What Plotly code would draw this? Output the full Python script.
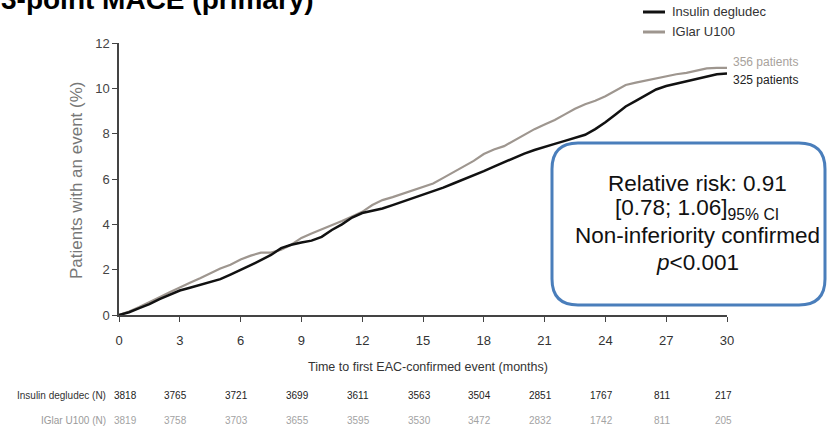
import plotly.graph_objects as go

# Time axis (months) for the cumulative incidence curves
months = [i * 0.5 for i in range(61)]

# Cumulative % of patients with a first EAC-confirmed MACE
degludec_pct = [
    0.00, 0.12, 0.30, 0.48, 0.70, 0.90, 1.08, 1.20, 1.32, 1.45,
    1.58, 1.78, 1.98, 2.20, 2.42, 2.65, 2.95, 3.10, 3.20, 3.28,
    3.45, 3.75, 4.00, 4.30, 4.50, 4.60, 4.70, 4.85, 5.00, 5.15,
    5.30, 5.45, 5.62, 5.80, 5.98, 6.15, 6.35, 6.55, 6.75, 6.95,
    7.12, 7.28, 7.40, 7.55, 7.68, 7.82, 7.95, 8.20, 8.50, 8.85,
    9.20, 9.45, 9.70, 9.95, 10.10, 10.20, 10.30, 10.42, 10.50, 10.62,
    10.66,
]
iglar_pct = [
    0.00, 0.15, 0.35, 0.55, 0.78, 1.00, 1.22, 1.42, 1.62, 1.85,
    2.05, 2.22, 2.45, 2.62, 2.75, 2.75, 2.88, 3.10, 3.40, 3.60,
    3.78, 3.95, 4.15, 4.35, 4.55, 4.85, 5.07, 5.20, 5.35, 5.48,
    5.62, 5.80, 6.05, 6.30, 6.55, 6.80, 7.10, 7.30, 7.45, 7.70,
    7.95, 8.20, 8.40, 8.60, 8.85, 9.10, 9.30, 9.45, 9.65, 9.90,
    10.15, 10.25, 10.35, 10.45, 10.55, 10.62, 10.68, 10.78, 10.88, 10.90,
    10.90,
]

series_names = ["Insulin degludec", "IGlar U100"]
event_counts = ["325 patients", "356 patients"]

# Number-at-risk table
risk_times = [0, 3, 6, 9, 12, 15, 18, 21, 24, 27, 30]
risk_degludec = [3818, 3765, 3721, 3699, 3611, 3563, 3504, 2851, 1767, 811, 217]
risk_iglar = [3819, 3758, 3703, 3655, 3595, 3530, 3472, 2832, 1742, 811, 205]
risk_row_labels = ["Insulin degludec (N)", "IGlar U100 (N)"]

W, H = 827, 433
ML, MR, MT, MB = 119, 100, 43, 118
PW, PH = W - ML - MR, H - MT - MB


def px_x(px):
    return (px - ML) / PW


def px_y(py):
    return (H - MB - py) / PH


FONT = "Liberation Sans, Arial, sans-serif"
BLACK = "#111111"
GREY = "#9e968f"

fig = go.Figure()
fig.add_trace(go.Scatter(x=months, y=iglar_pct, name=series_names[1], mode="lines",
                         line=dict(color=GREY, width=2.2), showlegend=False))
fig.add_trace(go.Scatter(x=months, y=degludec_pct, name=series_names[0], mode="lines",
                         line=dict(color=BLACK, width=2.5), showlegend=False))

annotations = []
shapes = []

# End-of-curve event counts
annotations.append(dict(x=months[-1], y=iglar_pct[-1], xref="x", yref="y", text=event_counts[1],
                        xanchor="left", yanchor="middle", xshift=4, yshift=6, showarrow=False,
                        font=dict(family=FONT, size=12, color="#a8a29c")))
annotations.append(dict(x=months[-1], y=degludec_pct[-1], xref="x", yref="y", text=event_counts[0],
                        xanchor="left", yanchor="middle", xshift=4, yshift=-7, showarrow=False,
                        font=dict(family=FONT, size=12, color="#222222")))

# Legend drawn by hand at the top right
for i, (name, col, w) in enumerate([(series_names[0], BLACK, 3), (series_names[1], GREY, 3)]):
    ypx = 12 + 20 * i
    shapes.append(dict(type="line", xref="paper", yref="paper", x0=px_x(643), x1=px_x(665),
                       y0=px_y(ypx), y1=px_y(ypx), line=dict(color=col, width=w)))
    annotations.append(dict(x=px_x(670), y=px_y(ypx), xref="paper", yref="paper", text=name,
                            xanchor="left", yanchor="middle", showarrow=False,
                            font=dict(family=FONT, size=13, color="#333333")))

# Number-at-risk rows
for row, (label, vals, col, lcol) in enumerate([
        (risk_row_labels[0], risk_degludec, "#222222", "#333333"),
        (risk_row_labels[1], risk_iglar, "#a3a3a3", "#9a9a9a")]):
    ypx = 395 + 25 * row
    annotations.append(dict(x=px_x(108), y=px_y(ypx), xref="paper", yref="paper", text=label,
                            xanchor="right", yanchor="middle", showarrow=False,
                            font=dict(family=FONT, size=10, color=lcol)))
    for k, (t, v) in enumerate(zip(risk_times, vals)):
        annotations.append(dict(x=t, y=px_y(ypx), xref="x", yref="paper", text=str(v),
                                xanchor="center", yanchor="middle",
                                xshift=6 if k == 0 else -4, showarrow=False,
                                font=dict(family=FONT, size=10, color=col)))

# Rounded result box
bx0, by0, bx1, by1, r = 552, 143, 825, 305, 26
pts = [
    ("M", [(bx0 + r, by0)]), ("L", [(bx1 - r, by0)]), ("Q", [(bx1, by0), (bx1, by0 + r)]),
    ("L", [(bx1, by1 - r)]), ("Q", [(bx1, by1), (bx1 - r, by1)]), ("L", [(bx0 + r, by1)]),
    ("Q", [(bx0, by1), (bx0, by1 - r)]), ("L", [(bx0, by0 + r)]), ("Q", [(bx0, by0), (bx0 + r, by0)]),
]
path = " ".join(cmd + " " + " ".join(f"{px_x(a):.5f},{px_y(b):.5f}" for a, b in p) for cmd, p in pts) + " Z"
shapes.append(dict(type="path", xref="paper", yref="paper", path=path,
                   line=dict(color="#4a7ebb", width=3), fillcolor="white", layer="above"))

box_lines = [
    "Relative risk: 0.91",
    "[0.78; 1.06]<sub>95% CI</sub>",
    "Non-inferiority confirmed",
    "<i>p</i>&lt;0.001",
]
for i, line in enumerate(box_lines):
    annotations.append(dict(x=px_x(697), y=px_y(183 + 26.5 * i), xref="paper", yref="paper",
                            text=line, xanchor="center", yanchor="middle", showarrow=False,
                            font=dict(family=FONT, size=22.5, color="#111111")))

# Title (runs off the top edge)
annotations.append(dict(x=px_x(-1), y=px_y(0), xref="paper", yref="paper",
                        text="<b>3-point MACE (primary)</b>", xanchor="left", yanchor="middle",
                        showarrow=False, font=dict(family=FONT, size=28, color="#000000")))

# Axis titles
annotations.append(dict(x=px_x(428), y=px_y(367), xref="paper", yref="paper",
                        text="Time to first EAC-confirmed event (months)", xanchor="center",
                        yanchor="middle", showarrow=False,
                        font=dict(family=FONT, size=12.5, color="#333333")))
annotations.append(dict(x=px_x(76), y=px_y(181), xref="paper", yref="paper",
                        text="Patients with an event (%)", textangle=-90, xanchor="center",
                        yanchor="middle", showarrow=False,
                        font=dict(family=FONT, size=17, color="#777777")))

fig.update_layout(
    width=W, height=H,
    margin=dict(l=ML, r=MR, t=MT, b=MB),
    paper_bgcolor="white", plot_bgcolor="white",
    annotations=annotations, shapes=shapes,
    showlegend=False,
)
fig.update_xaxes(range=[0, 30], tickvals=risk_times, showgrid=False, zeroline=False,
                 showline=True, linecolor="#444444", linewidth=1.5,
                 ticks="outside", ticklen=5, tickcolor="#444444", tickwidth=1.2,
                 ticklabelstandoff=8, tickfont=dict(family=FONT, size=13, color="#333333"))
fig.update_yaxes(range=[0, 12], tickvals=[0, 2, 4, 6, 8, 10, 12], showgrid=False, zeroline=False,
                 showline=True, linecolor="#444444", linewidth=1.5,
                 ticks="outside", ticklen=5, tickcolor="#444444", tickwidth=1.2,
                 tickfont=dict(family=FONT, size=13, color="#444444"))

fig.write_html("out.html")
